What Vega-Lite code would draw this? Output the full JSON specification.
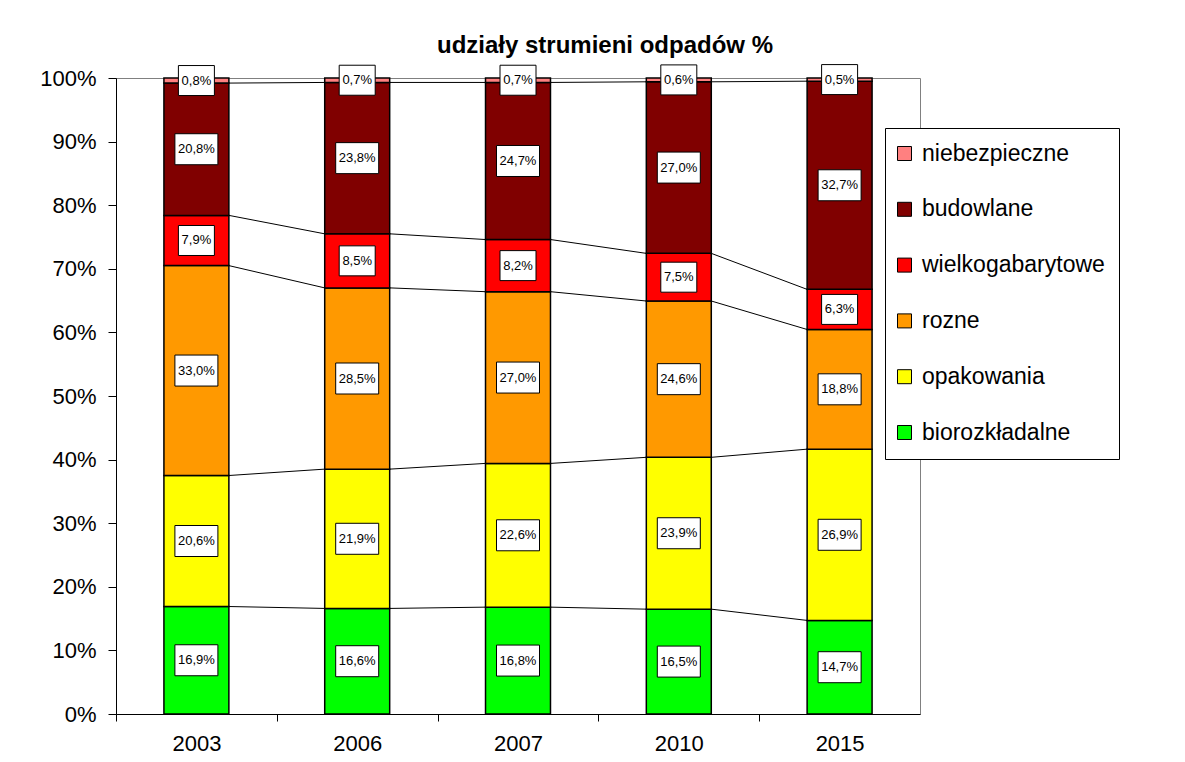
{
  "$schema": "https://vega.github.io/schema/vega-lite/v6.json",
  "autosize": {"type": "none"},
  "width": 804,
  "height": 636,
  "padding": {"left": 116, "top": 78, "right": 265, "bottom": 48},
  "background": "white",
  "title": {"text": "udziały strumieni odpadów %", "fontSize": 24, "fontWeight": "bold", "font": "Liberation Sans", "color": "black", "anchor": "middle", "dx": 87, "offset": 5},
  "data": {"values": [
    {"year": "2003", "category": "biorozkładalne", "value": 16.9},
    {"year": "2003", "category": "opakowania", "value": 20.6},
    {"year": "2003", "category": "rozne", "value": 33.0},
    {"year": "2003", "category": "wielkogabarytowe", "value": 7.9},
    {"year": "2003", "category": "budowlane", "value": 20.8},
    {"year": "2003", "category": "niebezpieczne", "value": 0.8},
    {"year": "2006", "category": "biorozkładalne", "value": 16.6},
    {"year": "2006", "category": "opakowania", "value": 21.9},
    {"year": "2006", "category": "rozne", "value": 28.5},
    {"year": "2006", "category": "wielkogabarytowe", "value": 8.5},
    {"year": "2006", "category": "budowlane", "value": 23.8},
    {"year": "2006", "category": "niebezpieczne", "value": 0.7},
    {"year": "2007", "category": "biorozkładalne", "value": 16.8},
    {"year": "2007", "category": "opakowania", "value": 22.6},
    {"year": "2007", "category": "rozne", "value": 27.0},
    {"year": "2007", "category": "wielkogabarytowe", "value": 8.2},
    {"year": "2007", "category": "budowlane", "value": 24.7},
    {"year": "2007", "category": "niebezpieczne", "value": 0.7},
    {"year": "2010", "category": "biorozkładalne", "value": 16.5},
    {"year": "2010", "category": "opakowania", "value": 23.9},
    {"year": "2010", "category": "rozne", "value": 24.6},
    {"year": "2010", "category": "wielkogabarytowe", "value": 7.5},
    {"year": "2010", "category": "budowlane", "value": 27.0},
    {"year": "2010", "category": "niebezpieczne", "value": 0.6},
    {"year": "2015", "category": "biorozkładalne", "value": 14.7},
    {"year": "2015", "category": "opakowania", "value": 26.9},
    {"year": "2015", "category": "rozne", "value": 18.8},
    {"year": "2015", "category": "wielkogabarytowe", "value": 6.3},
    {"year": "2015", "category": "budowlane", "value": 32.7},
    {"year": "2015", "category": "niebezpieczne", "value": 0.5}
  ]},
  "transform": [
    {"calculate": "indexof(['biorozkładalne','opakowania','rozne','wielkogabarytowe','budowlane','niebezpieczne'], datum.category)", "as": "ord"},
    {"stack": "value", "groupby": ["year"], "sort": [{"field": "ord", "order": "ascending"}], "offset": "normalize", "as": ["v0", "v1"]},
    {"calculate": "(datum.v0 + datum.v1) / 2", "as": "mid"},
    {"calculate": "replace(format(datum.value, '.1f'), '.', ',') + '%'", "as": "label"}
  ],
  "encoding": {
    "x": {"field": "year", "type": "ordinal", "sort": null,
      "scale": {"paddingInner": 0.596, "paddingOuter": 0.298},
      "axis": {"title": null, "labelAngle": 0, "labelFontSize": 22, "labelColor": "black", "domainColor": "black", "tickColor": "black", "tickSize": 7, "tickOffset": -80.4, "labelOffset": 80.4, "labelPadding": 12}}
  },
  "layer": [
    {
      "mark": {"type": "bar", "stroke": "black", "strokeWidth": 1.5},
      "encoding": {
        "y": {"field": "v1", "type": "quantitative", "scale": {"domain": [0, 1]},
          "axis": {"title": null, "values": [0, 0.1, 0.2, 0.3, 0.4, 0.5, 0.6, 0.7, 0.8, 0.9, 1], "format": ".0%", "grid": false, "labelFontSize": 22, "labelColor": "black", "domainColor": "black", "tickColor": "black", "tickSize": 8, "labelPadding": 12}},
        "y2": {"field": "v0"},
        "color": {"field": "category", "type": "nominal",
          "scale": {"domain": ["niebezpieczne", "budowlane", "wielkogabarytowe", "rozne", "opakowania", "biorozkładalne"],
                    "range": ["#FF8080", "#800000", "#FF0000", "#FF9900", "#FFFF00", "#00FF00"]},
          "legend": {"orient": "none", "legendX": 769, "legendY": 50, "title": null, "labelFontSize": 23, "labelColor": "black", "labelLimit": 300, "symbolType": "square", "symbolSize": 196, "symbolStrokeColor": "black", "symbolStrokeWidth": 1, "symbolOpacity": 1, "fillColor": "white", "strokeColor": "black", "padding": 14, "rowPadding": 31.8, "labelOffset": 6, "symbolOffset": -6}}
      }
    },
    {
      "transform": [
        {"window": [{"op": "lead", "field": "v1", "as": "nv1"}, {"op": "lead", "field": "year", "as": "nyear"}], "groupby": ["category"], "sort": [{"field": "year", "order": "ascending"}]},
        {"filter": "datum.nyear != null && datum.category != 'niebezpieczne'"}
      ],
      "mark": {"type": "rule", "color": "black", "strokeWidth": 1, "xOffset": 32.5, "x2Offset": -32.5},
      "encoding": {
        "x2": {"field": "nyear"},
        "y": {"field": "v1", "type": "quantitative"},
        "y2": {"field": "nv1"}
      }
    },
    {
      "mark": {"type": "point", "filled": true, "fill": "white", "stroke": "black", "strokeWidth": 1, "opacity": 1, "fillOpacity": 1, "size": 4},
      "encoding": {
        "y": {"field": "mid", "type": "quantitative"},
        "shape": {"condition": {"test": "datum.value < 10", "value": "M-18,-15H18V15H-18Z"}, "value": "M-21.5,-15.5H21.5V15.5H-21.5Z"}
      }
    },
    {
      "mark": {"type": "text", "fontSize": 13, "color": "black", "font": "Liberation Sans"},
      "encoding": {
        "y": {"field": "mid", "type": "quantitative"},
        "text": {"field": "label"}
      }
    }
  ],
  "config": {
    "font": "Liberation Sans",
    "view": {"stroke": "#808080", "strokeWidth": 1}
  }
}
